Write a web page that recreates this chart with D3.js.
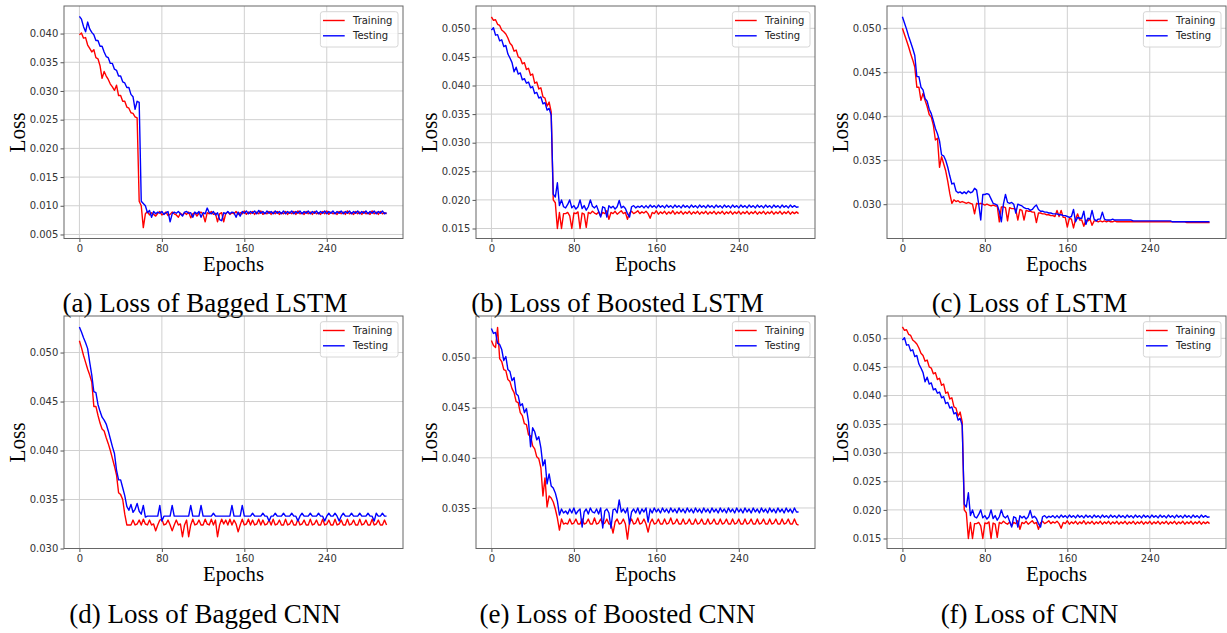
<!DOCTYPE html>
<html>
<head>
<meta charset="utf-8">
<script src="https://cdn.jsdelivr.net/npm/d3@7"></script>
<style>
	body { margin: 0; background: #fff; }
	svg { display: block; }
	.axis text { font-family: 'DejaVu Sans', sans-serif; font-size: 10px; fill: #333; }
	.axis line { stroke: #555; }
	.serif { font-family: 'Liberation Serif', 'Times New Roman', serif; fill: #000; }
	.legend-text { font-family: 'DejaVu Sans', sans-serif; font-size: 10px; fill: #222; }
</style>
</head>
<body>
<div id="chart"></div>
<script>
// epochs are sampled every 2; loss values are in units of 1e-4
const epochs = d3.range(0, 300, 2);
const xTicks = [0, 80, 160, 240];

// (a) Bagged LSTM
const baggedLstmTrain = [
	398,401,392,393,380,374,368,372,358,356,
	344,322,334,326,320,312,307,301,310,292,
	292,282,282,272,270,262,261,255,253,108,
	100,62,86,90,84,88,85,82,87,90,
	84,86,89,83,85,89,86,84,80,87,
	84,88,85,89,79,86,88,82,87,89,
	85,72,88,86,90,85,87,72,86,88,
	72,87,89,85,88,86,90,85,88,86,
	91,85,89,86,90,85,89,86,91,85,
	88,86,90,85,89,86,90,85,88,86,
	90,85,89,86,90,85,91,86,88,85,
	90,86,89,85,90,86,88,85,90,86,
	91,85,89,86,88,85,90,86,89,85,
	91,86,88,85,90,86,89,85,90,86,
	88,85,91,86,89,85,90,86,88,86
];
const baggedLstmTest = [
	430,425,412,403,420,408,402,398,388,388,
	378,378,368,360,358,348,348,338,336,326,
	326,316,314,306,306,294,290,268,282,280,
	108,104,100,88,92,80,90,86,89,87,
	90,85,88,90,72,86,89,87,90,86,
	82,89,90,87,88,80,89,86,90,80,
	88,86,96,88,86,90,84,88,76,74,
	88,86,90,86,89,88,80,89,82,90,
	87,91,86,90,87,91,86,92,87,90,
	86,91,87,90,86,91,87,90,86,91,
	86,90,87,91,86,90,87,91,86,90,
	87,91,86,90,87,91,86,90,87,91,
	86,90,87,91,86,90,87,91,86,90,
	87,91,86,90,87,91,86,90,87,91,
	86,90,87,91,86,90,87,91,86,88
];
const baggedLstmRange = [0.0043, 0.0448];
const baggedLstmTicks = [0.005, 0.010, 0.015, 0.020, 0.025, 0.030, 0.035, 0.040];

// (b) Boosted LSTM
const boostedLstmTrain = [
	520,514,515,507,505,497,494,490,483,474,
	470,460,462,450,448,438,440,428,430,418,
	420,404,406,394,396,380,378,364,371,354,
	200,195,150,178,150,176,176,178,172,150,
	177,176,179,150,177,175,152,178,176,180,
	177,175,179,172,178,176,181,166,178,176,
	180,175,178,181,176,178,166,177,180,176,
	178,181,176,179,177,180,176,168,178,176,
	181,175,179,176,180,175,179,176,181,175,
	179,176,180,175,179,176,180,175,179,176,
	180,175,179,176,180,175,179,176,180,175,
	179,176,180,175,179,176,180,175,179,176,
	180,175,179,176,180,175,179,176,180,175,
	179,176,180,175,179,176,180,175,179,176,
	180,175,179,176,180,175,179,176,179,176
];
const boostedLstmTest = [
	497,501,488,489,478,480,468,470,455,448,
	440,424,432,420,422,410,412,404,406,396,
	398,386,388,378,380,368,370,357,360,348,
	210,205,230,190,200,188,186,192,200,186,
	190,184,188,200,185,190,182,188,200,189,
	186,190,180,170,188,186,170,190,186,189,
	184,188,199,186,189,185,176,170,188,190,
	186,189,187,190,186,190,186,191,187,190,
	186,191,187,190,186,191,187,190,186,191,
	187,190,186,191,187,190,186,191,187,190,
	186,191,187,190,186,191,187,190,186,191,
	187,190,186,191,187,190,186,191,187,190,
	186,191,187,190,186,191,187,190,186,191,
	187,190,186,191,187,190,186,191,187,190,
	186,191,187,190,186,191,187,190,187,188
];
const boostedLstmRange = [0.01325, 0.0539];
const boostedLstmTicks = [0.015, 0.020, 0.025, 0.030, 0.035, 0.040, 0.045, 0.050];

// (c) LSTM
const lstmTrain = [
	500,493,486,479,471,464,456,433,433,418,
	426,418,411,402,399,390,373,375,342,354,
	346,338,326,312,301,305,303,304,302,303,
	302,301,302,301,300,289,301,300,301,300,
	299,300,299,298,299,298,298,280,297,297,
	296,281,296,295,295,294,282,294,293,282,
	293,292,292,291,291,279,290,290,289,289,
	288,288,287,287,286,293,286,293,285,285,
	274,284,283,273,283,289,282,282,275,282,
	281,283,276,281,281,280,281,280,281,280,
	281,280,280,281,280,280,280,280,280,280,
	280,280,280,280,280,280,280,280,280,280,
	280,280,280,280,280,280,280,280,280,280,
	280,280,280,280,280,280,280,280,279,279,
	279,279,279,279,279,279,279,279,279,279
];
const lstmTest = [
	513,506,499,491,484,477,469,445,445,433,
	430,420,417,408,403,395,386,380,372,356,
	355,350,342,332,323,324,315,313,314,312,
	314,312,315,313,314,318,316,300,282,311,
	311,312,311,306,301,300,299,292,280,300,
	311,302,301,302,300,290,300,299,298,296,
	295,295,293,294,297,299,294,292,292,291,
	291,290,290,289,289,289,288,288,287,287,
	286,285,286,294,280,285,284,284,292,277,
	284,283,293,283,281,283,283,291,283,282,
	282,282,283,282,282,282,282,282,282,282,
	282,282,281,281,281,281,281,281,281,281,
	281,281,281,281,281,281,281,281,281,281,
	281,280,280,280,280,280,280,280,280,280,
	280,280,280,280,280,280,280,280,280,280
];
const lstmRange = [0.0261, 0.05253];
const lstmTicks = [0.030, 0.035, 0.040, 0.045, 0.050];

// (d) Bagged CNN
const baggedCnnTrain = [
	512,505,497,490,483,477,470,445,445,436,
	428,422,420,413,407,400,392,384,375,357,
	355,350,335,324,324,324,329,324,325,329,
	324,330,325,324,329,324,325,318,324,329,
	330,324,325,329,324,318,324,329,324,325,
	312,324,329,312,324,330,324,325,329,324,
	324,330,325,324,330,324,329,312,324,330,
	325,329,324,330,324,329,325,317,324,330,
	324,325,330,324,329,324,325,330,324,329,
	324,325,329,324,330,324,325,329,324,324,
	330,324,325,329,324,324,330,324,325,329,
	324,324,330,324,325,329,324,324,330,324,
	325,329,324,324,330,324,325,329,324,324,
	330,324,325,329,324,324,330,324,325,329,
	324,324,330,324,325,329,324,324,329,324
];
const baggedCnnTest = [
	526,521,515,510,504,490,477,460,459,447,
	440,434,431,427,420,412,404,397,380,370,
	370,362,354,343,339,345,337,340,346,338,
	335,344,332,333,333,333,333,333,333,344,
	328,333,333,333,333,344,333,333,333,333,
	333,333,333,333,344,333,333,333,333,344,
	333,333,333,333,333,336,333,333,333,333,
	333,333,333,333,344,333,333,333,333,344,
	333,333,333,333,336,333,333,333,333,336,
	333,333,328,333,333,336,333,333,333,336,
	333,333,333,336,333,333,328,333,336,333,
	333,333,336,333,333,333,336,333,333,328,
	333,336,333,333,336,333,328,333,336,333,
	333,333,336,333,333,333,336,333,333,333,
	336,333,333,328,336,333,333,336,333,333
];
const baggedCnnRange = [0.0300, 0.05373];
const baggedCnnTicks = [0.030, 0.035, 0.040, 0.045, 0.050];

// (e) Boosted CNN
const boostedCnnTrain = [
	517,512,510,530,499,496,488,487,478,476,
	469,465,456,455,445,442,434,433,423,422,
	412,409,401,399,390,362,380,351,362,360,
	356,349,340,328,339,334,335,334,339,334,
	335,339,334,334,339,334,335,339,334,334,
	340,334,335,339,334,335,339,334,334,325,
	336,339,334,335,339,334,319,336,339,334,
	335,340,334,335,339,334,326,335,339,334,
	335,339,334,334,339,334,335,340,334,335,
	339,334,334,339,334,335,339,334,334,339,
	334,335,339,334,334,339,334,335,339,334,
	334,339,334,335,339,334,334,339,334,335,
	339,334,334,339,334,335,339,334,334,339,
	334,335,339,334,334,339,334,335,339,334,
	334,339,334,335,339,334,334,339,334,333
];
const boostedCnnTest = [
	529,524,525,514,513,508,497,501,488,486,
	477,480,464,462,452,454,445,449,436,411,
	430,426,418,421,410,392,398,374,384,372,
	370,365,357,343,349,345,347,344,349,345,
	350,344,347,349,331,346,349,344,350,346,
	345,349,344,350,330,347,349,345,330,348,
	349,345,358,346,349,345,350,334,346,349,
	345,350,344,349,346,350,336,349,345,350,
	346,349,345,350,346,349,345,350,346,349,
	345,350,346,349,345,350,346,349,345,350,
	346,349,345,350,346,349,345,350,346,349,
	345,350,346,349,345,350,346,349,345,350,
	346,349,345,350,346,349,345,350,346,349,
	345,350,346,349,345,350,346,349,345,350,
	346,349,345,350,346,349,345,350,346,346
];
const boostedCnnRange = [0.03096, 0.05414];
const boostedCnnTicks = [0.035, 0.040, 0.045, 0.050];

// (f) CNN: the figure shows the same curves as (b)
const cnnTrain = boostedLstmTrain;
const cnnTest = boostedLstmTest;
const cnnRange = [0.01325, 0.0539];
const cnnTicks = [0.015, 0.020, 0.025, 0.030, 0.035, 0.040, 0.045, 0.050];

const panels = [
	{ caption: '(a) Loss of Bagged LSTM', train: baggedLstmTrain, test: baggedLstmTest, range: baggedLstmRange, ticks: baggedLstmTicks },
	{ caption: '(b) Loss of Boosted LSTM', train: boostedLstmTrain, test: boostedLstmTest, range: boostedLstmRange, ticks: boostedLstmTicks },
	{ caption: '(c) Loss of LSTM', train: lstmTrain, test: lstmTest, range: lstmRange, ticks: lstmTicks },
	{ caption: '(d) Loss of Bagged CNN', train: baggedCnnTrain, test: baggedCnnTest, range: baggedCnnRange, ticks: baggedCnnTicks },
	{ caption: '(e) Loss of Boosted CNN', train: boostedCnnTrain, test: boostedCnnTest, range: boostedCnnRange, ticks: boostedCnnTicks },
	{ caption: '(f) Loss of CNN', train: cnnTrain, test: cnnTest, range: cnnRange, ticks: cnnTicks }
];

const width = 1227;
const height = 633;
const plotW = 339;
const plotH = 232.5;
const colLeft = [64, 476, 887];
const rowTop = [6, 316];
const captionX = [205, 617.5, 1029.5];
const captionY = [312, 622.5];

const svg = d3.select('#chart').append('svg')
	.attr('width', width)
	.attr('height', height);
svg.append('rect')
	.attr('width', width)
	.attr('height', height)
	.attr('fill', '#fff');

panels.forEach((p, i) => {
	const col = i % 3;
	const row = Math.floor(i / 3);
	const g = svg.append('g')
		.attr('transform', `translate(${colLeft[col]}, ${rowTop[row]})`);

	const x = d3.scaleLinear()
		.domain([-14.95, 313.95])
		.range([0, plotW]);
	const y = d3.scaleLinear()
		.domain(p.range)
		.range([plotH, 0]);

	// grid
	g.selectAll('.vgrid')
		.data(xTicks)
		.enter().append('line')
			.attr('x1', d => x(d))
			.attr('x2', d => x(d))
			.attr('y1', 0)
			.attr('y2', plotH)
			.attr('stroke', '#d0d0d0')
			.attr('stroke-width', 1);
	g.selectAll('.hgrid')
		.data(p.ticks)
		.enter().append('line')
			.attr('x1', 0)
			.attr('x2', plotW)
			.attr('y1', d => y(d))
			.attr('y2', d => y(d))
			.attr('stroke', '#d0d0d0')
			.attr('stroke-width', 1);

	// curves
	const clipId = `clip-${i}`;
	g.append('clipPath')
		.attr('id', clipId)
		.append('rect')
			.attr('width', plotW)
			.attr('height', plotH);
	const line = d3.line()
		.x((d, k) => x(epochs[k]))
		.y(d => y(d / 10000));
	g.append('path')
		.datum(p.train)
		.attr('clip-path', `url(#${clipId})`)
		.attr('fill', 'none')
		.attr('stroke', '#ff0000')
		.attr('stroke-width', 1.4)
		.attr('stroke-linejoin', 'round')
		.attr('d', line);
	g.append('path')
		.datum(p.test)
		.attr('clip-path', `url(#${clipId})`)
		.attr('fill', 'none')
		.attr('stroke', '#0000ff')
		.attr('stroke-width', 1.4)
		.attr('stroke-linejoin', 'round')
		.attr('d', line);

	// axes
	const xAxis = d3.axisBottom(x)
		.tickValues(xTicks)
		.tickSize(3.5)
		.tickPadding(3)
		.tickFormat(d3.format('d'));
	const yAxis = d3.axisLeft(y)
		.tickValues(p.ticks)
		.tickSize(3.5)
		.tickPadding(2.2)
		.tickFormat(d3.format('.3f'));
	g.append('g')
		.attr('class', 'axis')
		.attr('transform', `translate(0, ${plotH})`)
		.call(xAxis)
		.call(a => a.select('.domain').remove());
	g.append('g')
		.attr('class', 'axis')
		.call(yAxis)
		.call(a => a.select('.domain').remove());

	// frame
	g.append('rect')
		.attr('width', plotW)
		.attr('height', plotH)
		.attr('fill', 'none')
		.attr('stroke', '#666')
		.attr('stroke-width', 1);

	// legend
	const lg = g.append('g')
		.attr('transform', `translate(${plotW - 82.6}, 5.7)`);
	lg.append('rect')
		.attr('width', 77.6)
		.attr('height', 35.3)
		.attr('rx', 2.5)
		.attr('fill', '#fff')
		.attr('fill-opacity', 0.85)
		.attr('stroke', '#d6d6d6');
	[['Training', '#ff0000'], ['Testing', '#0000ff']].forEach(([name, color], k) => {
		const ly = 8.8 + k * 15.3;
		lg.append('line')
			.attr('x1', 2.6)
			.attr('x2', 24.3)
			.attr('y1', ly)
			.attr('y2', ly)
			.attr('stroke', color)
			.attr('stroke-width', 1.4);
		lg.append('text')
			.attr('class', 'legend-text')
			.attr('x', 32.6)
			.attr('y', ly)
			.attr('dy', '0.36em')
			.text(name);
	});

	// axis labels
	g.append('text')
		.attr('class', 'serif')
		.attr('transform', `translate(-39, 126.5) rotate(-90)`)
		.attr('text-anchor', 'middle')
		.attr('font-size', 24)
		.attr('textLength', 40)
		.attr('lengthAdjust', 'spacingAndGlyphs')
		.text('Loss');
	g.append('text')
		.attr('class', 'serif')
		.attr('x', plotW / 2)
		.attr('y', 264.7)
		.attr('text-anchor', 'middle')
		.attr('font-size', 20)
		.attr('textLength', 61)
		.attr('lengthAdjust', 'spacingAndGlyphs')
		.text('Epochs');

	// caption
	svg.append('text')
		.attr('class', 'serif')
		.attr('x', captionX[col])
		.attr('y', captionY[row])
		.attr('text-anchor', 'middle')
		.attr('font-size', 27)
		.text(p.caption);
});
</script>
</body>
</html>
